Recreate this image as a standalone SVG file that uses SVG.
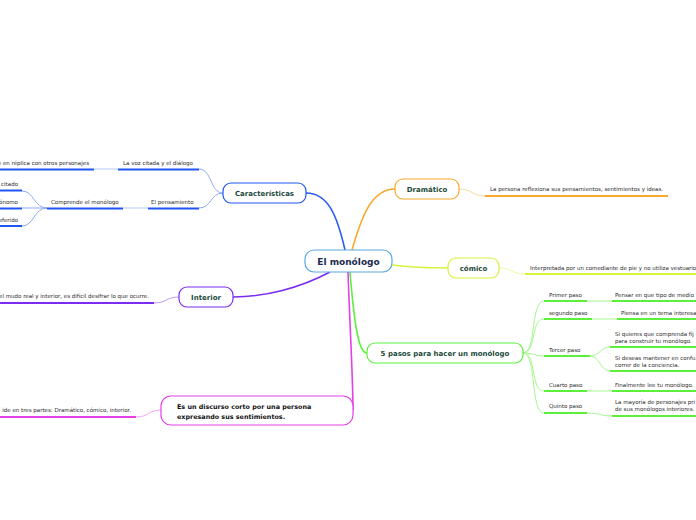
<svg xmlns="http://www.w3.org/2000/svg" width="696" height="520" viewBox="0 0 696 520">
<style>
.bg{fill:#ffffff}
.node{fill:#ffffff;stroke-width:1.2}
.t{font-family:"DejaVu Sans","Liberation Sans",sans-serif;font-weight:bold;font-size:7px;fill:#1d4a3c;text-anchor:middle}
.c{font-family:"DejaVu Sans","Liberation Sans",sans-serif;font-weight:bold;font-size:9px;fill:#1c2b4f;text-anchor:middle}
.s{font-family:"DejaVu Sans","Liberation Sans",sans-serif;font-size:5.5px;fill:#2a2a2a}
.e{text-anchor:end}
.b{font-family:"DejaVu Sans","Liberation Sans",sans-serif;font-weight:bold;font-size:6.4px;fill:#111111}
.conn path{fill:none}
.u{fill:none;stroke-width:2}
</style>
<rect class="bg" x="0" y="0" width="696" height="520"/>
<g id="connectors" class="conn">
  <path d="M345,250 C337,215 328,193 306,193" stroke="#2a5cf2" stroke-width="1.6"/>
  <path d="M352,250 C362,215 372,189 395,189" stroke="#f7a92c" stroke-width="1.6"/>
  <path d="M392,265 C415,268 430,268 448,268" stroke="#d6f23c" stroke-width="1.6"/>
  <path d="M350,272 C354,320 358,353 367,353" stroke="#5cf03c" stroke-width="1.6"/>
  <path d="M330,272 C300,288 265,297 233,297" stroke="#7a2cf0" stroke-width="1.6"/>
  <path d="M348,272 C350,330 353,380 353,410" stroke="#e440e8" stroke-width="1.6"/>
  <path d="M223,193 C210,193 212,169 199,169" stroke="#8eaaf8" stroke-width="1"/>
  <path d="M223,193 C210,193 212,208 199,208" stroke="#8eaaf8" stroke-width="1"/>
  <path d="M94,169 L118,169" stroke="#b9c9fa" stroke-width="1"/>
  <path d="M123,208 L148,208" stroke="#b9c9fa" stroke-width="1"/>
  <path d="M47,208 C34,208 34,191 22,191" stroke="#8eaaf8" stroke-width="1"/>
  <path d="M47,208 L22,208" stroke="#8eaaf8" stroke-width="1"/>
  <path d="M47,208 C34,208 34,226 22,226" stroke="#8eaaf8" stroke-width="1"/>
  <path d="M459,189 C472,189 472,196 485,196" stroke="#fcd8a0" stroke-width="1"/>
  <path d="M499,268 C512,268 512,274 525,274" stroke="#eefaa8" stroke-width="1"/>
  <path d="M179,297 C166,297 167,303 154,303" stroke="#bd9cf8" stroke-width="1"/>
  <path d="M161,410 C148,410 149,417 136,417" stroke="#f3a2f4" stroke-width="1"/>
  <path d="M523,353 C537,353 530,301 544,301" stroke="#a6f890" stroke-width="1"/>
  <path d="M523,353 C537,353 530,319 544,319" stroke="#a6f890" stroke-width="1"/>
  <path d="M523,353 C534,353 534,356 544,356" stroke="#a6f890" stroke-width="1"/>
  <path d="M523,353 C537,353 530,391 544,391" stroke="#a6f890" stroke-width="1"/>
  <path d="M523,353 C537,353 530,413 544,413" stroke="#a6f890" stroke-width="1"/>
  <path d="M587,301 L612,301" stroke="#a6f890" stroke-width="1"/>
  <path d="M592,319 L617,319" stroke="#a6f890" stroke-width="1"/>
  <path d="M590,356 C600,356 600,347 610,347" stroke="#a6f890" stroke-width="1"/>
  <path d="M590,356 C600,356 600,371 610,371" stroke="#a6f890" stroke-width="1"/>
  <path d="M587,391 L612,391" stroke="#a6f890" stroke-width="1"/>
  <path d="M587,413 C600,413 600,416 612,416" stroke="#a6f890" stroke-width="1"/>
</g>

<g id="central">
  <rect class="node" x="305" y="250" width="87" height="22" rx="9" stroke="#5aa8e0"/>
  <text class="c" x="348.5" y="264.5">El monólogo</text>
</g>

<g id="caracteristicas">
  <rect class="node" x="223" y="183" width="83" height="20" rx="8" stroke="#1f55f2"/>
  <text class="t" x="264.5" y="195.5">Características</text>
</g>
<g id="voz-citada">
  <text class="s" x="123" y="164.5">La voz citada y el  diálogo</text>
  <path class="u" d="M118,169.5 L199,169.5" stroke="#1f55f2"/>
</g>
<g id="replica">
  <text class="s e" x="89" y="164.5">e en réplica con otros personajes</text>
  <path class="u" d="M0,169.5 L94,169.5" stroke="#1f55f2"/>
</g>
<g id="pensamiento">
  <text class="s" x="151" y="204">El pensamiento</text>
  <path class="u" d="M148,208.5 L199,208.5" stroke="#1f55f2"/>
</g>
<g id="comprende">
  <text class="s" x="51" y="204">Comprende el monólogo</text>
  <path class="u" d="M47,208.5 L123,208.5" stroke="#1f55f2"/>
</g>
<g id="citado">
  <text class="s e" x="18" y="185.5">citado</text>
  <path class="u" d="M0,190.5 L22,190.5" stroke="#1f55f2"/>
</g>
<g id="autonomo">
  <text class="s e" x="18" y="204">ónomo</text>
  <path class="u" d="M0,208.5 L22,208.5" stroke="#1f55f2"/>
</g>
<g id="referido">
  <text class="s e" x="18" y="221.5">eferido</text>
  <path class="u" d="M0,226 L22,226" stroke="#1f55f2"/>
</g>

<g id="dramatico">
  <rect class="node" x="395" y="179" width="64" height="20" rx="8" stroke="#f7a92c"/>
  <text class="t" x="427" y="191.5">Dramático</text>
</g>
<g id="dramatico-leaf">
  <text class="s" x="490" y="191">La persona reflexiona sus pensamientos, sentimientos y ideas.</text>
  <path class="u" d="M485,196 L668,196" stroke="#f7a92c"/>
</g>

<g id="comico">
  <rect class="node" x="448" y="258" width="51" height="20" rx="8" stroke="#d6f23c"/>
  <text class="t" x="473.5" y="270.5">cómico</text>
</g>
<g id="comico-leaf">
  <text class="s" x="530" y="270">Interpretada por un comediante de pie y no utiliza vestuario</text>
  <path class="u" d="M525,274 L696,274" stroke="#d6f23c"/>
</g>

<g id="pasos">
  <rect class="node" x="367" y="343" width="156" height="20" rx="8" stroke="#5cf03c"/>
  <text class="t" x="445" y="355.5">5 pasos para hacer un monólogo</text>
</g>
<g id="primer">
  <text class="s" x="549" y="297">Primer paso</text>
  <path class="u" d="M544,301 L587,301" stroke="#5cf03c"/>
</g>
<g id="primer-leaf">
  <text class="s" x="615" y="297">Pensar en que tipo de medio</text>
  <path class="u" d="M612,301 L696,301" stroke="#5cf03c"/>
</g>
<g id="segundo">
  <text class="s" x="549" y="315">segundo paso</text>
  <path class="u" d="M544,319 L592,319" stroke="#5cf03c"/>
</g>
<g id="segundo-leaf">
  <text class="s" x="621" y="315">Piensa en un tema interesa</text>
  <path class="u" d="M617,319 L696,319" stroke="#5cf03c"/>
</g>
<g id="tercer">
  <text class="s" x="549" y="351.5">Tercer paso</text>
  <path class="u" d="M544,356 L590,356" stroke="#5cf03c"/>
</g>
<g id="tercer-leaf1">
  <text class="s" x="615" y="335.5">Si quieres que comprenda fíj</text>
  <text class="s" x="615" y="342.5">para construir tu monólogo.</text>
  <path class="u" d="M610,347 L696,347" stroke="#5cf03c"/>
</g>
<g id="tercer-leaf2">
  <text class="s" x="615" y="359.5">Si deseas mantener en confu</text>
  <text class="s" x="615" y="367">correr de la conciencia.</text>
  <path class="u" d="M610,371 L696,371" stroke="#5cf03c"/>
</g>
<g id="cuarto">
  <text class="s" x="549" y="387">Cuarto paso</text>
  <path class="u" d="M544,391 L587,391" stroke="#5cf03c"/>
</g>
<g id="cuarto-leaf">
  <text class="s" x="615" y="387">Finalmente lee tu monólogo.</text>
  <path class="u" d="M612,391 L696,391" stroke="#5cf03c"/>
</g>
<g id="quinto">
  <text class="s" x="549" y="408">Quinto paso</text>
  <path class="u" d="M544,413 L587,413" stroke="#5cf03c"/>
</g>
<g id="quinto-leaf">
  <text class="s" x="615" y="404">La mayoría de personajes pri</text>
  <text class="s" x="615" y="411">de sus monólogos interiores.</text>
  <path class="u" d="M612,416 L696,416" stroke="#5cf03c"/>
</g>

<g id="interior">
  <rect class="node" x="179" y="287" width="54" height="20" rx="8" stroke="#7a2cf0"/>
  <text class="t" x="206" y="299.5">Interior</text>
</g>
<g id="interior-leaf">
  <text class="s e" x="149" y="298">el mudo real y interior, es difícil desifrar lo que ocurre.</text>
  <path class="u" d="M0,303 L154,303" stroke="#7a2cf0"/>
</g>

<g id="discurso">
  <rect class="node" x="161" y="396" width="192" height="29" rx="10" stroke="#e440e8"/>
  <text class="b" x="177" y="409">Es un discurso corto por una persona</text>
  <text class="b" x="177" y="418.5">expresando sus sentimientos.</text>
</g>
<g id="discurso-leaf">
  <text class="s e" x="131" y="412">ide en tres partes: Dramático, cómico, interior.</text>
  <path class="u" d="M0,417 L136,417" stroke="#e440e8"/>
</g>
</svg>
